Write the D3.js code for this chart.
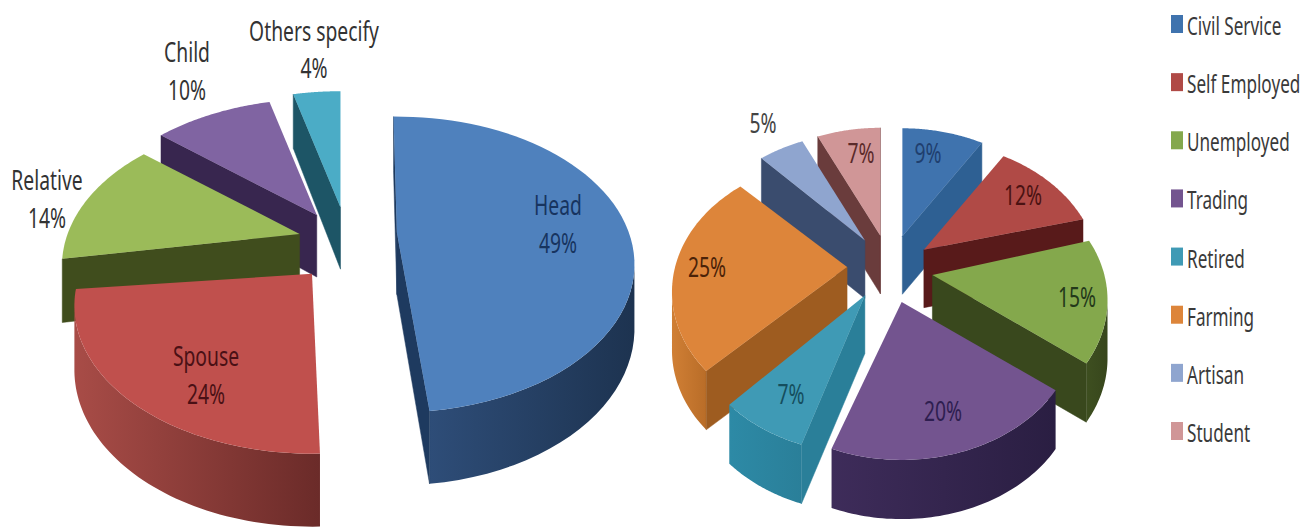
<!DOCTYPE html>
<html>
<head>
<meta charset="utf-8">
<script src="https://cdn.jsdelivr.net/npm/d3@7/dist/d3.min.js"></script>
<style>
  html, body { margin: 0; padding: 0; background: #fff; overflow: hidden; }
  text { font-family: "Noto Sans", sans-serif; }
</style>
</head>
<body>
<script>
// Household role shares
const roleNames = ["Head", "Spouse", "Relative", "Child", "Others specify"];
const roleValues = [49, 24, 14, 10, 4];

// Occupation shares
const jobNames = ["Civil Service", "Self Employed", "Unemployed", "Trading", "Retired", "Farming", "Artisan", "Student"];
const jobValues = [9, 12, 15, 20, 7, 25, 5, 7];

// Face colours: top, wall (light end), wall (dark end), cut face
const roleTop = ["#4f81bd", "#c0504d", "#9bbb59", "#8064a2", "#4bacc6"];
const roleWallA = ["#2e4d78", "#a84c47", "#3f4c1e", "#38264f", "#1d5566"];
const roleWallB = ["#1d3350", "#6b2b29", "#3f4c1e", "#38264f", "#1d5566"];
const roleCut = ["#1e3a5f", "#6b2b29", "#404d1d", "#38264f", "#1d5566"];
const roleInk = ["#17345f", "#4a1015", "#333", "#333", "#333"];

const jobTop = ["#3f73ae", "#b04a46", "#84a84c", "#73548f", "#3f9ab5", "#dd853a", "#8fa5cf", "#d09697"];
const jobWallA = ["#2e6093", "#581a1a", "#3e4f20", "#3e2c5a", "#2d8aa6", "#d07f35", "#3a4c6e", "#6a3c3c"];
const jobWallB = ["#2e6093", "#581a1a", "#37461c", "#2a1e42", "#2a7f99", "#b96d28", "#3a4c6e", "#6a3c3c"];
const jobCut = ["#2e6093", "#581a1a", "#39481d", "#3a2850", "#2a7f99", "#9e5c20", "#3a4c6e", "#6a3c3c"];
const jobInk = ["#1f3f6e", "#4a1212", "#23381a", "#2e1e50", "#154e5e", "#4a2208", "#444", "#5a2a2a"];

// Pie layout: centre, horizontal and vertical radius, perspective strength, extrusion
const rolePie = { cx: 346, cy: 234, B: 232, A: 141, k: 0.216, D: 62, kd: 0.15 };
const jobPie = { cx: 890, cy: 268, B: 172, A: 128.3, k: 0.188, D: 58, kd: 0.02 };

// How far each slice is pulled out, the bearing tweak of the pull, and a small slice rotation (degrees)
const rolePull = [0.22, 0.3, 0.2, 0.19, 0.2];
const roleBearing = [0, -10, -15, -11, 0];
const roleTwist = [-1, 3.8, 0, 0, 0];
const jobPull = [0.27, 0.25, 0.25, 0.26, 0.25, 0.25, 0.27, 0.27];
const jobBearing = [0, 0, 0, 0, 0, 0, 0, 0];
const jobTwist = [0, 0, -2, -2, -4, -1.5, 0, 0];

// Label anchors: [centre x, baseline y of the first line]
const roleLabelAt = [[558, 215], [206, 366], [47, 190], [187, 62], [314, 41]];
const roleLineGap = 38;
const jobLabelAt = [[928, 163], [1023, 205], [1077, 307], [943, 421], [791, 404], [707, 277], [763, 133], [861, 163]];

const width = 1303, height = 527;
const rad = d => d * Math.PI / 180;
const svg = d3.select("body").append("svg").attr("width", width).attr("height", height)
  .style("display", "block");
const defs = svg.append("defs");
const line = d3.line();

function drawPie(cfg, values, pull, bearing, twist, top, wallA, wallB, cut, id) {
  const project = (u, v) => {
    const d = 1 - cfg.k * v;
    return [cfg.B * u / d, cfg.A * v / d];
  };
  const arcs = d3.pie().sort(null).value(d => d)(values);
  const slices = arcs.map((a, i) => {
    const t0 = a.startAngle + rad(twist[i]);
    const t1 = a.endAngle + rad(twist[i]);
    const centre = (a.startAngle + a.endAngle) / 2;
    const mid = centre + rad(bearing[i]);
    const off = project(pull[i] * Math.sin(mid), -pull[i] * Math.cos(mid));
    const ox = cfg.cx + off[0], oy = cfg.cy + off[1];
    const toTop = (u, v) => { const p = project(u, v); return [ox + p[0], oy + p[1]]; };
    const sink = (u, v, p) => [p[0], p[1] + cfg.D / (1 - cfg.kd * v)];
    const rim = d3.range(0, 61).map(j => {
      const t = t0 + (t1 - t0) * j / 60;
      const u = Math.sin(t), v = -Math.cos(t);
      const p = toTop(u, v);
      return { p, q: sink(u, v, p) };
    });
    return { i, depthKey: -Math.cos(centre), apex: [ox, oy], apexLow: sink(0, 0, [ox, oy]), rim };
  }).sort((a, b) => a.depthKey - b.depthKey);

  const g = svg.append("g");
  slices.forEach(s => {
    const group = g.append("g");
    // outer wall: only the rim stretch that faces the viewer
    const front = s.rim.filter((r, j) => {
      const nb = s.rim[Math.min(j + 1, 60)], pv = s.rim[Math.max(j - 1, 0)];
      const dx = nb.p[0] - pv.p[0], dy = nb.p[1] - pv.p[1];
      let nx = dy, ny = -dx;
      if (nx * (r.p[0] - s.apex[0]) + ny * (r.p[1] - s.apex[1]) < 0) { ny = -ny; }
      return ny > 0;
    });
    if (front.length > 1) {
      const xs = d3.extent(front, r => r.p[0]);
      const gid = `${id}-wall-${s.i}`;
      const grad = defs.append("linearGradient").attr("id", gid)
        .attr("gradientUnits", "userSpaceOnUse")
        .attr("x1", xs[0]).attr("x2", xs[1]).attr("y1", 0).attr("y2", 0);
      grad.append("stop").attr("offset", 0).attr("stop-color", wallA[s.i]);
      grad.append("stop").attr("offset", 1).attr("stop-color", wallB[s.i]);
      const outline = front.map(r => r.p).concat(front.map(r => r.q).reverse());
      group.append("path").attr("d", line(outline) + "Z").attr("fill", `url(#${gid})`);
    }
    // cut faces: keep those whose outward side points toward the viewer
    const midRim = s.rim[30].p;
    [s.rim[0], s.rim[60]].forEach(end => {
      const ex = end.p[0] - s.apex[0], ey = end.p[1] - s.apex[1];
      let nx = ey, ny = -ex;
      if (nx * (midRim[0] - s.apex[0]) + ny * (midRim[1] - s.apex[1]) > 0) { ny = -ny; }
      if (ny > 0) {
        group.append("path")
          .attr("d", line([s.apex, end.p, end.q, s.apexLow]) + "Z")
          .attr("fill", cut[s.i]).attr("stroke", cut[s.i]).attr("stroke-width", 0.5);
      }
    });
    // top face
    group.append("path")
      .attr("d", line([s.apex].concat(s.rim.map(r => r.p))) + "Z")
      .attr("fill", top[s.i]);
  });
}

drawPie(rolePie, roleValues, rolePull, roleBearing, roleTwist, roleTop, roleWallA, roleWallB, roleCut, "role");
drawPie(jobPie, jobValues, jobPull, jobBearing, jobTwist, jobTop, jobWallA, jobWallB, jobCut, "job");

// Narrow text: the glyphs are squeezed horizontally around their anchor
function label(x, y, str, fill, size, squeeze, anchor) {
  svg.append("text")
    .attr("transform", `translate(${x},${y}) scale(${squeeze},1)`)
    .attr("text-anchor", anchor || "middle")
    .attr("font-size", size)
    .attr("fill", fill)
    .text(str);
}

roleNames.forEach((name, i) => {
  const [x, y] = roleLabelAt[i];
  label(x, y, name, roleInk[i], 27, 0.715);
  label(x, y + (i === 4 ? 37 : roleLineGap), `${roleValues[i]}%`, roleInk[i], 27, 0.715);
});
jobValues.forEach((v, i) => {
  const [x, y] = jobLabelAt[i];
  label(x, y, `${v}%`, jobInk[i], 27, 0.715);
});

// Occupation legend
const legendY = d3.scalePoint().domain(jobNames).range([24, 431]);
const legendColour = d3.scaleOrdinal().domain(jobNames).range(jobTop);
jobNames.forEach(name => {
  const y = legendY(name);
  svg.append("rect").attr("x", 1171).attr("y", y - 9).attr("width", 12).attr("height", 18)
    .attr("fill", legendColour(name));
  label(1187, y + 11, name, "#3a3a3a", 25, 0.686, "start");
});
</script>
</body>
</html>
